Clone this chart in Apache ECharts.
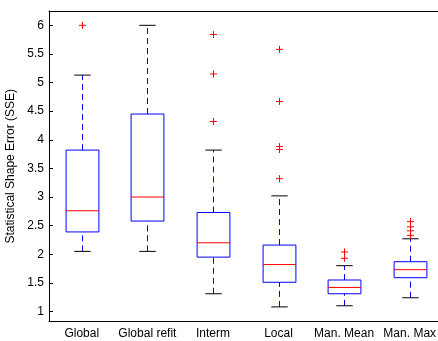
<!DOCTYPE html>
<html>
<head>
<meta charset="utf-8">
<script src="https://cdn.jsdelivr.net/npm/echarts@6/dist/echarts.min.js"></script>
<style>
  html, body { margin: 0; padding: 0; background: #fff; }
  #chart { width: 438px; height: 341px; }
</style>
</head>
<body>
<div id="chart"></div>
<script>
// box plot values
var categories = ['Global', 'Global refit', 'Interm', 'Local', 'Man. Mean', 'Man. Max'];
var whiskerLow = [2.05, 2.05, 1.31, 1.08, 1.10, 1.24];
var quart1 = [2.39, 2.58, 1.95, 1.51, 1.31, 1.59];
var medians = [2.76, 3.00, 2.20, 1.82, 1.42, 1.73];
var quart3 = [3.82, 4.45, 2.73, 2.16, 1.55, 1.87];
var whiskerHigh = [5.13, 6.00, 3.82, 3.02, 1.80, 2.27];
// outliers: category index + value
var outlierCat = [0, 2, 2, 2, 3, 3, 3, 3, 3, 4, 4, 5, 5, 5, 5];
var outlierVal = [6.00, 5.84, 5.15, 4.32, 5.58, 4.67, 3.88, 3.83, 3.32, 2.04, 1.93, 2.57, 2.48, 2.41, 2.33];
var yTicks = [1, 1.5, 2, 2.5, 3, 3.5, 4, 4.5, 5, 5.5, 6];

var boxData = categories.map(function (c, i) {
  return [i, whiskerLow[i], quart1[i], medians[i], quart3[i], whiskerHigh[i]];
});
var outlierData = outlierCat.map(function (c, i) {
  return [c, outlierVal[i]];
});

var font = 'Liberation Sans, Arial, sans-serif';

function renderBox(params, api) {
  var i = api.value(0);
  var lo = api.coord([i, api.value(1)]);
  var q1 = api.coord([i, api.value(2)]);
  var md = api.coord([i, api.value(3)]);
  var q3 = api.coord([i, api.value(4)]);
  var hi = api.coord([i, api.value(5)]);
  var band = api.size([1, 0])[0];
  var bw = band * 0.25, cw = band * 0.125;
  var x = Math.round(lo[0]) + 0.5;
  var blue = '#0000ff';
  function ln(x1, y1, x2, y2, style) {
    return { type: 'line', shape: { x1: x1, y1: y1, x2: x2, y2: y2 }, style: style };
  }
  return {
    type: 'group',
    children: [
      ln(x, q3[1], x, hi[1], { stroke: blue, lineWidth: 1, lineDash: [6, 4] }),
      ln(x, lo[1], x, q1[1], { stroke: blue, lineWidth: 1, lineDash: [6, 4] }),
      ln(x - cw, hi[1], x + cw, hi[1], { stroke: '#000', lineWidth: 1 }),
      ln(x - cw, lo[1], x + cw, lo[1], { stroke: '#000', lineWidth: 1 }),
      { type: 'rect', shape: { x: x - bw, y: q3[1], width: bw * 2, height: q1[1] - q3[1] },
        style: { fill: 'none', stroke: blue, lineWidth: 1 } },
      ln(x - bw, md[1], x + bw, md[1], { stroke: '#ff0000', lineWidth: 1 })
    ]
  };
}

function renderCross(params, api) {
  var p = api.coord([api.value(0), api.value(1)]);
  var x = Math.round(p[0]) + 0.5, y = p[1], s = 3.5;
  return {
    type: 'group',
    children: [
      { type: 'line', shape: { x1: x - s, y1: y, x2: x + s, y2: y }, style: { stroke: '#ff0000', lineWidth: 1 } },
      { type: 'line', shape: { x1: x, y1: y - s, x2: x, y2: y + s }, style: { stroke: '#ff0000', lineWidth: 1 } }
    ]
  };
}

var chart = echarts.init(document.getElementById('chart'));
var option = {
  backgroundColor: '#fff',
  animation: false,
  grid: { left: 49, right: -4.5, top: 11, bottom: 19.5, containLabel: false, outerBoundsMode: 'none' },
  xAxis: [{
    type: 'category',
    data: categories,
    position: 'bottom',
    boundaryGap: true,
    axisLine: { lineStyle: { color: '#000', width: 1 } },
    axisTick: { inside: true, alignWithLabel: true, interval: 0, length: 4, lineStyle: { color: '#000' } },
    axisLabel: { color: '#000', fontSize: 12, fontFamily: font, margin: 6, interval: 0 },
    splitLine: { show: false }
  }, {
    type: 'category',
    data: categories,
    position: 'top',
    boundaryGap: true,
    axisLine: { lineStyle: { color: '#000', width: 1 } },
    axisTick: { inside: true, alignWithLabel: true, interval: 0, length: 4, lineStyle: { color: '#000' } },
    axisLabel: { show: false },
    splitLine: { show: false }
  }],
  yAxis: {
    type: 'value',
    min: 0.825,
    max: 6.25,
    name: 'Statistical Shape Error (SSE)',
    nameLocation: 'middle',
    nameGap: 26,
    nameTextStyle: { color: '#000', fontSize: 12, fontFamily: font },
    axisLine: { show: true, lineStyle: { color: '#000', width: 1 } },
    axisTick: { show: true, inside: true, length: 4, customValues: yTicks, lineStyle: { color: '#000' } },
    axisLabel: { color: '#000', fontSize: 12, fontFamily: font, margin: 5, customValues: yTicks },
    splitLine: { show: false }
  },
  series: [{
    type: 'custom',
    renderItem: renderBox,
    data: boxData,
    encode: { x: 0, y: [1, 2, 3, 4, 5] },
    clip: false
  }, {
    type: 'custom',
    renderItem: renderCross,
    data: outlierData,
    encode: { x: 0, y: 1 },
    clip: false
  }]
};
chart.setOption(option);
</script>
</body>
</html>
